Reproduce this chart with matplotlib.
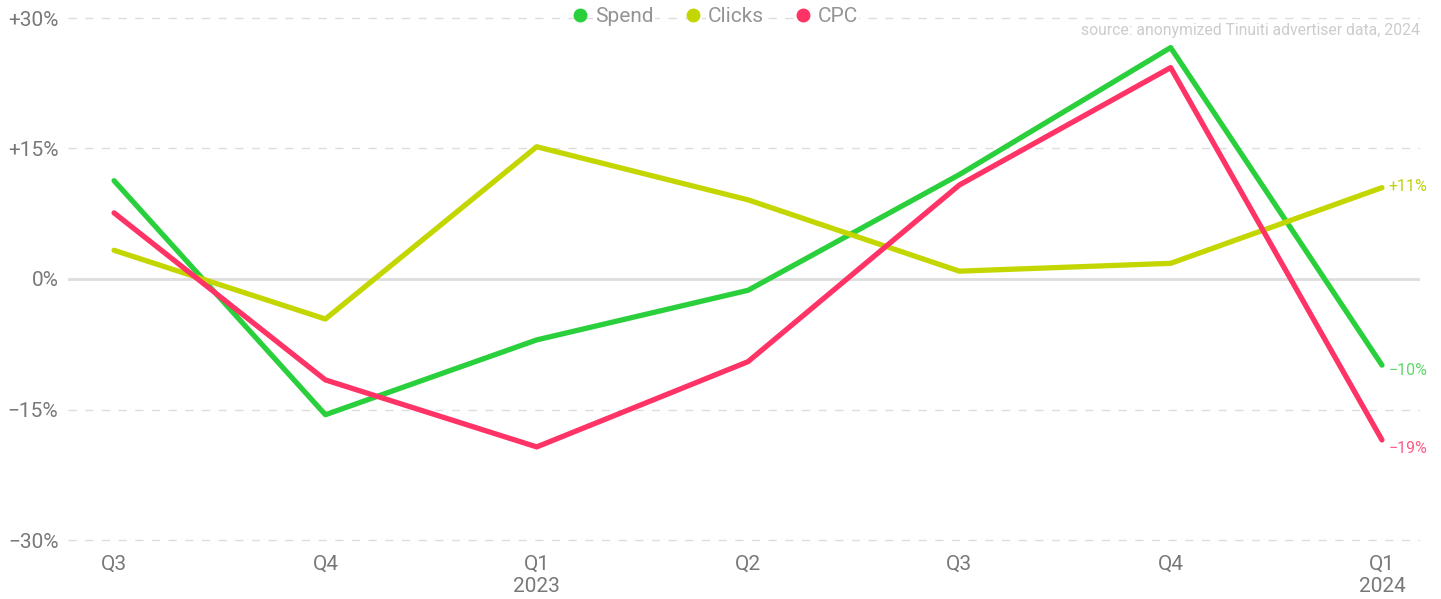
import numpy as np
import matplotlib.pyplot as plt

quarters = ['Q3', 'Q4', 'Q1\n2023', 'Q2', 'Q3', 'Q4', 'Q1\n2024']
spend = [11.3, -15.6, -7.0, -1.3, 12.0, 26.6, -9.9]
clicks = [3.3, -4.6, 15.2, 9.1, 0.9, 1.8, 10.5]
cpc = [7.6, -11.6, -19.3, -9.5, 10.8, 24.3, -18.5]

series = [
    ('Spend', spend, '#2ad03c', '#5fd86a'),
    ('Clicks', clicks, '#c4d600', '#bfd10a'),
    ('CPC', cpc, '#ff3366', '#ff5c84'),
]
end_labels = ['\u221210%', '+11%', '\u221219%']
label_dy = [-5, 1, -9]  # pixel nudges for end labels

plt.rcParams['font.family'] = ['Roboto', 'DejaVu Sans']

W, H = 1441, 599
fig = plt.figure(figsize=(W / 100, H / 100), dpi=100)
# +30% at y=18px, -30% at y=540px; ylim -31..31
top_px, bot_px = 9.3, 548.7
ax = fig.add_axes([68 / W, 1 - bot_px / H, (1420 - 68) / W, (bot_px - top_px) / H])

x = np.arange(len(quarters))

for v in [-30, -15, 15, 30]:
    ax.axhline(v, color='#dddddd', lw=1, dashes=(6, 6), zorder=0)
ax.axhline(0, color='#dddddd', lw=2, zorder=0)

for (name, vals, col, lcol), lab, dy in zip(series, end_labels, label_dy):
    ax.plot(x, vals, color=col, lw=3.8, solid_capstyle='round',
            solid_joinstyle='round', label=name, zorder=3)
    ax.annotate(lab, (x[-1], vals[-1]), xytext=(5, dy * 0.72),
                textcoords='offset points', color=lcol, fontsize=11.5,
                va='center', ha='left')

ax.set_xlim(-0.218, 6.18)
ax.set_ylim(-31, 31)
ax.set_yticks([-30, -15, 0, 15, 30])
ax.set_yticklabels(['\u221230%', '\u221215%', '0%', '+15%', '+30%'])
ax.set_xticks(x)
ax.set_xticklabels(quarters, linespacing=1.25)
ax.tick_params(length=0, labelsize=15, labelcolor='#787878')
ax.tick_params(axis='y', pad=7)
ax.tick_params(axis='x', pad=4)
for s in ax.spines.values():
    s.set_visible(False)

leg = fig.legend(*ax.get_legend_handles_labels(), loc='center',
                 bbox_to_anchor=(716 / W, 1 - 17 / H), ncol=3,
                 frameon=False, handlelength=0.6, handletextpad=0.4,
                 columnspacing=1.6, fontsize=15)
for h, (_, _, col, _) in zip(leg.legend_handles, series):
    h.set_linewidth(0)
    h.set_marker('o')
    h.set_markersize(9)
    h.set_markerfacecolor(col)
    h.set_markeredgecolor(col)
for t in leg.get_texts():
    t.set_color('#949494')
    t.set_bbox(dict(facecolor='white', edgecolor='none', pad=1))

fig.text(1420 / W, 1 - 31 / H, 'source: anonymized Tinuiti advertiser data, 2024',
         ha='right', va='center', fontsize=11.3, color='#cccccc')

fig.savefig('out.png', dpi=100, facecolor='white')
